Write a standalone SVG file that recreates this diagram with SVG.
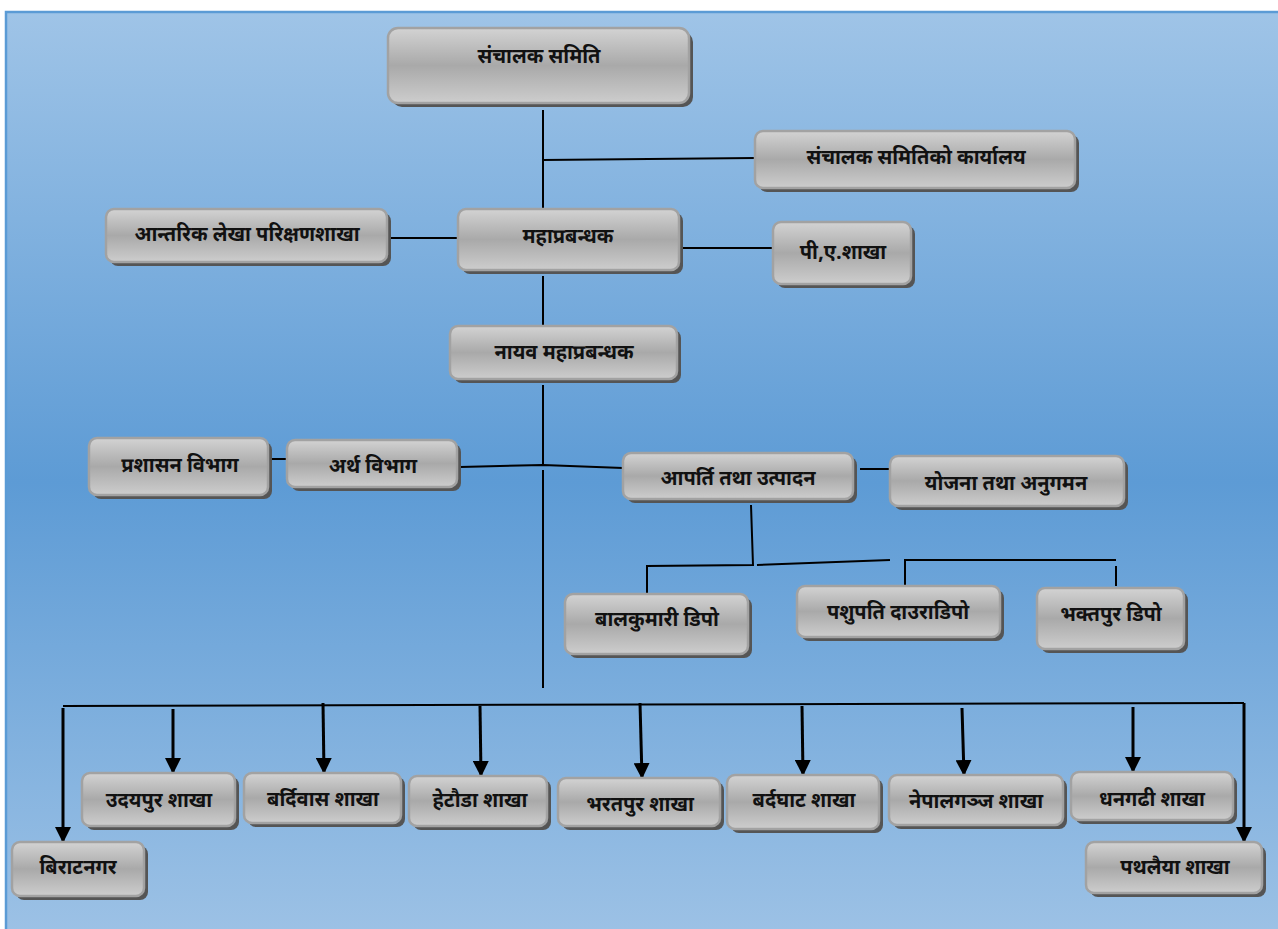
<svg xmlns="http://www.w3.org/2000/svg" width="1278" height="929" viewBox="0 0 1278 929">
<defs>
<linearGradient id="bg" x1="0" y1="0" x2="0" y2="1">
<stop offset="0" stop-color="#9fc4e7"/>
<stop offset="0.5" stop-color="#5d9bd5"/>
<stop offset="1" stop-color="#9fc3e6"/>
</linearGradient>
<linearGradient id="box" x1="0" y1="0" x2="0" y2="1">
<stop offset="0" stop-color="#d3d3d3"/>
<stop offset="0.5" stop-color="#a9a9a9"/>
<stop offset="1" stop-color="#cdcdcd"/>
</linearGradient>
<marker id="arr" viewBox="0 0 16 16" refX="15" refY="8" markerWidth="16" markerHeight="16" markerUnits="userSpaceOnUse" orient="auto">
<path d="M0,0 L16,8 L0,16 Z" fill="#000"/>
</marker>
</defs>
<style>
.sh{fill:#555555}
.bx{fill:url(#box);stroke:#a2a2a2;stroke-width:2.5}
.t{font-family:"Noto Sans Devanagari","Lohit Devanagari","Noto Sans","Liberation Sans",sans-serif;font-size:20px;font-weight:bold;fill:#111;text-anchor:middle}
.ln{stroke:#000;stroke-width:2;fill:none}
.ar{stroke:#000;stroke-width:3;fill:none}
</style>
<rect x="0" y="0" width="1278" height="929" fill="#ffffff"/>
<rect x="6" y="12" width="1290" height="940" fill="url(#bg)" stroke="#5b9bd5" stroke-width="2.5"/>

<g id="connectors">
<path class="ln" d="M543,110 L543,160 L755,158"/>
<path class="ln" d="M543,160 L543,209"/>
<path class="ln" d="M388,238 L458,238"/>
<path class="ln" d="M680,248 L773,248"/>
<path class="ln" d="M543,276 L543,326"/>
<path class="ln" d="M543,385 L543,465"/>
<path class="ln" d="M269,459 L287,459"/>
<path class="ln" d="M460,467 L543,465 L623,468"/>
<path class="ln" d="M543,470 L543,688"/>
<path class="ln" d="M860,469 L890,469"/>
<path class="ln" d="M751,505 L753,565 L647,566 L647,594"/>
<path class="ln" d="M757,565 L890,560"/>
<path class="ln" d="M905,588 L905,560 L1116,560"/>
<path class="ln" d="M1116,566 L1116,586"/>
<path class="ln" d="M63,706 L1244,703"/>
<path class="ar" d="M63,708 L63,842" marker-end="url(#arr)"/>
<path class="ar" d="M173,709 L173,773" marker-end="url(#arr)"/>
<path class="ar" d="M323,703 L324,773" marker-end="url(#arr)"/>
<path class="ar" d="M480,706 L481,776" marker-end="url(#arr)"/>
<path class="ar" d="M640,703 L642,778" marker-end="url(#arr)"/>
<path class="ar" d="M802,706 L803,775" marker-end="url(#arr)"/>
<path class="ar" d="M962,708 L964,775" marker-end="url(#arr)"/>
<path class="ar" d="M1133,707 L1133,772" marker-end="url(#arr)"/>
<path class="ar" d="M1244,703 L1244,842" marker-end="url(#arr)"/>
</g>

<g id="n1"><rect class="sh" x="392" y="32" width="301" height="75" rx="10"/><rect class="bx" x="388" y="28" width="301" height="75" rx="10"/><text class="t" x="539" y="63">संचालक समिति</text></g>
<g id="n2"><rect class="sh" x="759" y="135" width="320" height="57" rx="8"/><rect class="bx" x="755" y="131" width="320" height="57" rx="8"/><text class="t" x="916" y="164">संचालक समितिको कार्यालय</text></g>
<g id="n3"><rect class="sh" x="110" y="213" width="281" height="53" rx="8"/><rect class="bx" x="106" y="209" width="281" height="53" rx="8"/><text class="t" x="247" y="241">आन्तरिक लेखा परिक्षणशाखा</text></g>
<g id="n4"><rect class="sh" x="462" y="213" width="221" height="61" rx="8"/><rect class="bx" x="458" y="209" width="221" height="61" rx="8"/><text class="t" x="568" y="243">महाप्रबन्धक</text></g>
<g id="n5"><rect class="sh" x="777" y="226" width="138" height="62" rx="8"/><rect class="bx" x="773" y="222" width="138" height="62" rx="8"/><text class="t" x="843" y="259">पी,ए.शाखा</text></g>
<g id="n6"><rect class="sh" x="454" y="330" width="227" height="53" rx="8"/><rect class="bx" x="450" y="326" width="227" height="53" rx="8"/><text class="t" x="564" y="359">नायव महाप्रबन्धक</text></g>
<g id="n7"><rect class="sh" x="93" y="442" width="179" height="57" rx="8"/><rect class="bx" x="89" y="438" width="179" height="57" rx="8"/><text class="t" x="180" y="472">प्रशासन विभाग</text></g>
<g id="n8"><rect class="sh" x="291" y="444" width="170" height="47" rx="8"/><rect class="bx" x="287" y="440" width="170" height="47" rx="8"/><text class="t" x="373" y="473">अर्थ विभाग</text></g>
<g id="n9"><rect class="sh" x="627" y="457" width="230" height="46" rx="8"/><rect class="bx" x="623" y="453" width="230" height="46" rx="8"/><text class="t" x="738" y="485">आपर्ति तथा उत्पादन</text></g>
<g id="n10"><rect class="sh" x="894" y="460" width="234" height="50" rx="8"/><rect class="bx" x="890" y="456" width="234" height="50" rx="8"/><text class="t" x="1006" y="490">योजना तथा अनुगमन</text></g>
<g id="n11"><rect class="sh" x="569" y="598" width="183" height="60" rx="8"/><rect class="bx" x="565" y="594" width="183" height="60" rx="8"/><text class="t" x="657" y="626">बालकुमारी डिपो</text></g>
<g id="n12"><rect class="sh" x="801" y="590" width="203" height="51" rx="8"/><rect class="bx" x="797" y="586" width="203" height="51" rx="8"/><text class="t" x="898" y="619">पशुपति दाउराडिपो</text></g>
<g id="n13"><rect class="sh" x="1041" y="592" width="147" height="61" rx="8"/><rect class="bx" x="1037" y="588" width="147" height="61" rx="8"/><text class="t" x="1111" y="621">भक्तपुर डिपो</text></g>
<g id="n14"><rect class="sh" x="86" y="777" width="153" height="53" rx="8"/><rect class="bx" x="82" y="773" width="153" height="53" rx="8"/><text class="t" x="159" y="807">उदयपुर शाखा</text></g>
<g id="n15"><rect class="sh" x="248" y="777" width="157" height="50" rx="8"/><rect class="bx" x="244" y="773" width="157" height="50" rx="8"/><text class="t" x="323" y="806">बर्दिवास शाखा</text></g>
<g id="n16"><rect class="sh" x="413" y="780" width="138" height="50" rx="8"/><rect class="bx" x="409" y="776" width="138" height="50" rx="8"/><text class="t" x="480" y="807">हेटौडा शाखा</text></g>
<g id="n17"><rect class="sh" x="562" y="782" width="162" height="48" rx="8"/><rect class="bx" x="558" y="778" width="162" height="48" rx="8"/><text class="t" x="640" y="811">भरतपुर शाखा</text></g>
<g id="n18"><rect class="sh" x="731" y="779" width="152" height="54" rx="8"/><rect class="bx" x="727" y="775" width="152" height="54" rx="8"/><text class="t" x="804" y="807">बर्दघाट शाखा</text></g>
<g id="n19"><rect class="sh" x="893" y="779" width="174" height="50" rx="8"/><rect class="bx" x="889" y="775" width="174" height="50" rx="8"/><text class="t" x="976" y="808">नेपालगञ्ज शाखा</text></g>
<g id="n20"><rect class="sh" x="1075" y="776" width="162" height="48" rx="8"/><rect class="bx" x="1071" y="772" width="162" height="48" rx="8"/><text class="t" x="1152" y="806">धनगढी  शाखा</text></g>
<g id="n21"><rect class="sh" x="16" y="846" width="132" height="54" rx="8"/><rect class="bx" x="12" y="842" width="132" height="54" rx="8"/><text class="t" x="78" y="874">बिराटनगर</text></g>
<g id="n22"><rect class="sh" x="1090" y="846" width="176" height="51" rx="8"/><rect class="bx" x="1086" y="842" width="176" height="51" rx="8"/><text class="t" x="1175" y="874">पथलैया शाखा</text></g>
</svg>
